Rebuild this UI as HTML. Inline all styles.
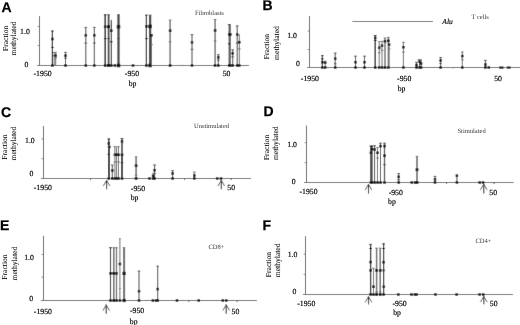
<!DOCTYPE html>
<html><head><meta charset="utf-8"><style>
html,body{margin:0;padding:0;background:#fff;}
body{width:520px;height:325px;overflow:hidden;font-family:"Liberation Serif",serif;}
svg{display:block;} text{text-rendering:geometricPrecision;}
</style></head><body>
<svg width="520" height="325" viewBox="0 0 520 325">
<defs><filter id="bl" filterUnits="userSpaceOnUse" x="0" y="0" width="520" height="325"><feConvolveMatrix order="3" kernelMatrix="0 1 0 1 8 1 0 1 0" preserveAlpha="true" edgeMode="duplicate"/></filter>
<filter id="tf" filterUnits="userSpaceOnUse" x="0" y="0" width="520" height="325"><feConvolveMatrix order="3" kernelMatrix="0 0 0 0 1 0 0 0 0" preserveAlpha="true" edgeMode="duplicate"/></filter></defs>
<g filter="url(#bl)">
<rect width="520" height="325" fill="#fff"/>
<line x1="39.5" y1="16" x2="39.5" y2="66.0" stroke="#555" stroke-width="1"/>
<line x1="37.0" y1="65.5" x2="249" y2="65.5" stroke="#666" stroke-width="1"/>
<line x1="37.7" y1="26.5" x2="39.5" y2="26.5" stroke="#777" stroke-width="1"/>
<line x1="37.7" y1="45.5" x2="39.5" y2="45.5" stroke="#777" stroke-width="1"/>
<line x1="52.4" y1="31" x2="52.4" y2="65.5" stroke="#111" stroke-width="1.2"/>
<line x1="51.1" y1="31" x2="53.699999999999996" y2="31" stroke="#111" stroke-width="1"/>
<line x1="51.1" y1="47.4" x2="53.699999999999996" y2="47.4" stroke="#111" stroke-width="1"/>
<rect x="51.15" y="37.75" width="2.5" height="2.5" fill="#111"/>
<rect x="51.15" y="64.25" width="2.5" height="2.5" fill="#111"/>
<line x1="54.2" y1="52.4" x2="54.2" y2="65.5" stroke="#6a6a6a" stroke-width="1"/>
<line x1="52.900000000000006" y1="52.4" x2="55.5" y2="52.4" stroke="#6a6a6a" stroke-width="1"/>
<line x1="55.7" y1="52.4" x2="55.7" y2="65.5" stroke="#6a6a6a" stroke-width="1"/>
<line x1="54.400000000000006" y1="52.4" x2="57.0" y2="52.4" stroke="#6a6a6a" stroke-width="1"/>
<line x1="54.400000000000006" y1="58.1" x2="57.0" y2="58.1" stroke="#6a6a6a" stroke-width="1"/>
<rect x="54.45" y="54.35" width="2.5" height="2.5" fill="#111"/>
<line x1="65.5" y1="52.4" x2="65.5" y2="65.5" stroke="#444" stroke-width="1"/>
<line x1="64.2" y1="52.4" x2="66.8" y2="52.4" stroke="#444" stroke-width="1"/>
<line x1="64.2" y1="58.2" x2="66.8" y2="58.2" stroke="#444" stroke-width="1"/>
<rect x="64.25" y="54.35" width="2.5" height="2.5" fill="#111"/>
<rect x="64.25" y="64.25" width="2.5" height="2.5" fill="#111"/>
<line x1="85.8" y1="27.4" x2="85.8" y2="65.5" stroke="#444" stroke-width="1"/>
<line x1="84.5" y1="27.4" x2="87.1" y2="27.4" stroke="#444" stroke-width="1"/>
<line x1="84.5" y1="43.1" x2="87.1" y2="43.1" stroke="#444" stroke-width="1"/>
<rect x="84.55" y="34.05" width="2.5" height="2.5" fill="#111"/>
<rect x="84.55" y="64.25" width="2.5" height="2.5" fill="#111"/>
<line x1="94.3" y1="27.4" x2="94.3" y2="65.5" stroke="#444" stroke-width="1"/>
<line x1="93.0" y1="27.4" x2="95.6" y2="27.4" stroke="#444" stroke-width="1"/>
<line x1="93.0" y1="43.1" x2="95.6" y2="43.1" stroke="#444" stroke-width="1"/>
<rect x="93.05" y="34.05" width="2.5" height="2.5" fill="#111"/>
<rect x="93.05" y="64.25" width="2.5" height="2.5" fill="#111"/>
<line x1="105.2" y1="14.8" x2="105.2" y2="65.5" stroke="#111" stroke-width="1.4"/>
<line x1="103.9" y1="14.8" x2="106.5" y2="14.8" stroke="#111" stroke-width="1"/>
<line x1="103.9" y1="38.6" x2="106.5" y2="38.6" stroke="#111" stroke-width="1"/>
<rect x="103.9" y="25.4" width="2.5999999999999996" height="2.5999999999999996" fill="#111"/>
<rect x="103.9" y="64.2" width="2.5999999999999996" height="2.5999999999999996" fill="#111"/>
<line x1="108.6" y1="14.8" x2="108.6" y2="65.5" stroke="#444" stroke-width="1.8"/>
<line x1="107.3" y1="14.8" x2="109.89999999999999" y2="14.8" stroke="#444" stroke-width="1"/>
<line x1="107.3" y1="38.6" x2="109.89999999999999" y2="38.6" stroke="#444" stroke-width="1"/>
<rect x="107.1" y="25.2" width="3.0" height="3.0" fill="#111"/>
<rect x="107.1" y="64.0" width="3.0" height="3.0" fill="#111"/>
<line x1="111.3" y1="19.9" x2="111.3" y2="65.5" stroke="#111" stroke-width="1"/>
<line x1="110.0" y1="41.8" x2="112.6" y2="41.8" stroke="#111" stroke-width="1"/>
<rect x="110.05" y="29.45" width="2.5" height="2.5" fill="#111"/>
<rect x="110.05" y="64.25" width="2.5" height="2.5" fill="#111"/>
<line x1="118.5" y1="14.8" x2="118.5" y2="65.5" stroke="#444" stroke-width="2.3"/>
<line x1="117.2" y1="14.8" x2="119.8" y2="14.8" stroke="#444" stroke-width="1"/>
<line x1="117.2" y1="38.6" x2="119.8" y2="38.6" stroke="#444" stroke-width="1"/>
<rect x="116.75" y="24.95" width="3.5" height="3.5" fill="#111"/>
<rect x="116.75" y="63.75" width="3.5" height="3.5" fill="#111"/>
<line x1="146.4" y1="15.2" x2="146.4" y2="65.5" stroke="#111" stroke-width="1.2"/>
<line x1="145.1" y1="15.2" x2="147.70000000000002" y2="15.2" stroke="#111" stroke-width="1"/>
<line x1="145.1" y1="38.6" x2="147.70000000000002" y2="38.6" stroke="#111" stroke-width="1"/>
<rect x="145.15" y="25.15" width="2.5" height="2.5" fill="#111"/>
<rect x="145.15" y="64.25" width="2.5" height="2.5" fill="#111"/>
<line x1="150.1" y1="15.2" x2="150.1" y2="65.5" stroke="#444" stroke-width="2.3"/>
<line x1="148.79999999999998" y1="15.2" x2="151.4" y2="15.2" stroke="#444" stroke-width="1"/>
<rect x="148.35" y="24.65" width="3.5" height="3.5" fill="#111"/>
<rect x="148.35" y="63.75" width="3.5" height="3.5" fill="#111"/>
<line x1="151.5" y1="35.3" x2="151.5" y2="65.5" stroke="#6a6a6a" stroke-width="1"/>
<line x1="150.2" y1="44.6" x2="152.8" y2="44.6" stroke="#6a6a6a" stroke-width="1"/>
<rect x="150.25" y="34.05" width="2.5" height="2.5" fill="#111"/>
<line x1="170.1" y1="20.1" x2="170.1" y2="65.5" stroke="#6a6a6a" stroke-width="1.4"/>
<line x1="168.79999999999998" y1="20.1" x2="171.4" y2="20.1" stroke="#6a6a6a" stroke-width="1"/>
<line x1="168.79999999999998" y1="41.8" x2="171.4" y2="41.8" stroke="#6a6a6a" stroke-width="1"/>
<rect x="168.79999999999998" y="29.4" width="2.5999999999999996" height="2.5999999999999996" fill="#111"/>
<rect x="168.79999999999998" y="64.2" width="2.5999999999999996" height="2.5999999999999996" fill="#111"/>
<line x1="192" y1="34.6" x2="192" y2="65.5" stroke="#444" stroke-width="1"/>
<line x1="190.7" y1="34.6" x2="193.3" y2="34.6" stroke="#444" stroke-width="1"/>
<line x1="190.7" y1="49.4" x2="193.3" y2="49.4" stroke="#444" stroke-width="1"/>
<rect x="190.75" y="41.15" width="2.5" height="2.5" fill="#111"/>
<rect x="190.75" y="64.25" width="2.5" height="2.5" fill="#111"/>
<line x1="215.1" y1="19.5" x2="215.1" y2="65.5" stroke="#6a6a6a" stroke-width="1.4"/>
<line x1="213.79999999999998" y1="19.5" x2="216.4" y2="19.5" stroke="#6a6a6a" stroke-width="1"/>
<line x1="213.79999999999998" y1="40.9" x2="216.4" y2="40.9" stroke="#6a6a6a" stroke-width="1"/>
<rect x="213.79999999999998" y="29.2" width="2.5999999999999996" height="2.5999999999999996" fill="#111"/>
<rect x="213.79999999999998" y="64.2" width="2.5999999999999996" height="2.5999999999999996" fill="#111"/>
<line x1="218.3" y1="54.7" x2="218.3" y2="65.5" stroke="#444" stroke-width="1"/>
<line x1="217.0" y1="54.7" x2="219.60000000000002" y2="54.7" stroke="#444" stroke-width="1"/>
<line x1="217.0" y1="60.099999999999994" x2="219.60000000000002" y2="60.099999999999994" stroke="#444" stroke-width="1"/>
<rect x="217.05" y="56.15" width="2.5" height="2.5" fill="#111"/>
<rect x="217.05" y="64.25" width="2.5" height="2.5" fill="#111"/>
<line x1="229.2" y1="24.6" x2="229.2" y2="65.5" stroke="#111" stroke-width="1"/>
<line x1="227.89999999999998" y1="24.6" x2="230.5" y2="24.6" stroke="#111" stroke-width="1"/>
<line x1="227.89999999999998" y1="43.8" x2="230.5" y2="43.8" stroke="#111" stroke-width="1"/>
<rect x="227.95" y="33.25" width="2.5" height="2.5" fill="#111"/>
<rect x="227.95" y="64.25" width="2.5" height="2.5" fill="#111"/>
<line x1="230.4" y1="24.6" x2="230.4" y2="65.5" stroke="#6a6a6a" stroke-width="1"/>
<rect x="229.15" y="33.25" width="2.5" height="2.5" fill="#111"/>
<rect x="229.15" y="64.25" width="2.5" height="2.5" fill="#111"/>
<line x1="232.7" y1="49.9" x2="232.7" y2="65.5" stroke="#444" stroke-width="1"/>
<line x1="231.39999999999998" y1="49.9" x2="234.0" y2="49.9" stroke="#444" stroke-width="1"/>
<line x1="231.39999999999998" y1="56.9" x2="234.0" y2="56.9" stroke="#444" stroke-width="1"/>
<rect x="231.45" y="52.15" width="2.5" height="2.5" fill="#111"/>
<rect x="231.45" y="64.25" width="2.5" height="2.5" fill="#111"/>
<line x1="237.2" y1="25.9" x2="237.2" y2="65.5" stroke="#444" stroke-width="1"/>
<line x1="235.89999999999998" y1="25.9" x2="238.5" y2="25.9" stroke="#444" stroke-width="1"/>
<line x1="235.89999999999998" y1="43.1" x2="238.5" y2="43.1" stroke="#444" stroke-width="1"/>
<rect x="235.95" y="33.25" width="2.5" height="2.5" fill="#111"/>
<rect x="235.95" y="64.25" width="2.5" height="2.5" fill="#111"/>
<line x1="239.3" y1="34.2" x2="239.3" y2="65.5" stroke="#6a6a6a" stroke-width="1"/>
<line x1="238.0" y1="48.9" x2="240.60000000000002" y2="48.9" stroke="#6a6a6a" stroke-width="1"/>
<rect x="238.05" y="40.95" width="2.5" height="2.5" fill="#111"/>
<rect x="238.05" y="64.25" width="2.5" height="2.5" fill="#111"/>
<rect x="113.55" y="64.25" width="2.5" height="2.5" fill="#111"/>
<rect x="131.75" y="64.25" width="2.5" height="2.5" fill="#111"/>
<line x1="52.6" y1="56" x2="55.6" y2="55.2" stroke="#333" stroke-width="0.8"/>
<rect x="181" y="64.6" width="1.2" height="1.6" fill="#999"/>
<line x1="309.5" y1="16" x2="309.5" y2="68.0" stroke="#555" stroke-width="1"/>
<line x1="307.0" y1="67.5" x2="520" y2="67.5" stroke="#666" stroke-width="1"/>
<line x1="307.7" y1="31" x2="309.5" y2="31" stroke="#777" stroke-width="1"/>
<line x1="307.7" y1="49.5" x2="309.5" y2="49.5" stroke="#777" stroke-width="1"/>
<line x1="322.3" y1="55.6" x2="322.3" y2="67.5" stroke="#111" stroke-width="1"/>
<line x1="321.0" y1="55.6" x2="323.6" y2="55.6" stroke="#111" stroke-width="1"/>
<line x1="321.0" y1="58.9" x2="323.6" y2="58.9" stroke="#111" stroke-width="1"/>
<rect x="321.05" y="60.95" width="2.5" height="2.5" fill="#111"/>
<rect x="321.05" y="66.25" width="2.5" height="2.5" fill="#111"/>
<line x1="325.2" y1="60.5" x2="325.2" y2="67.5" stroke="#6a6a6a" stroke-width="1"/>
<rect x="323.95" y="61.35" width="2.5" height="2.5" fill="#111"/>
<rect x="323.95" y="66.25" width="2.5" height="2.5" fill="#111"/>
<line x1="335.2" y1="53.1" x2="335.2" y2="67.5" stroke="#444" stroke-width="1"/>
<line x1="333.9" y1="53.1" x2="336.5" y2="53.1" stroke="#444" stroke-width="1"/>
<line x1="333.9" y1="63.8" x2="336.5" y2="63.8" stroke="#444" stroke-width="1"/>
<rect x="333.95" y="57.45" width="2.5" height="2.5" fill="#111"/>
<rect x="333.95" y="66.25" width="2.5" height="2.5" fill="#111"/>
<line x1="355.5" y1="56.2" x2="355.5" y2="67.5" stroke="#444" stroke-width="1"/>
<line x1="354.2" y1="56.2" x2="356.8" y2="56.2" stroke="#444" stroke-width="1"/>
<rect x="354.25" y="60.95" width="2.5" height="2.5" fill="#111"/>
<rect x="354.25" y="66.25" width="2.5" height="2.5" fill="#111"/>
<line x1="364.5" y1="56.2" x2="364.5" y2="67.5" stroke="#444" stroke-width="1"/>
<line x1="363.2" y1="56.2" x2="365.8" y2="56.2" stroke="#444" stroke-width="1"/>
<rect x="363.25" y="60.95" width="2.5" height="2.5" fill="#111"/>
<rect x="363.25" y="66.25" width="2.5" height="2.5" fill="#111"/>
<line x1="375.2" y1="35.5" x2="375.2" y2="67.5" stroke="#111" stroke-width="1.3"/>
<line x1="373.9" y1="35.5" x2="376.5" y2="35.5" stroke="#111" stroke-width="1"/>
<line x1="373.9" y1="40.5" x2="376.5" y2="40.5" stroke="#111" stroke-width="1"/>
<rect x="373.95" y="36.75" width="2.5" height="2.5" fill="#111"/>
<rect x="373.95" y="66.25" width="2.5" height="2.5" fill="#111"/>
<line x1="379.2" y1="41.7" x2="379.2" y2="67.5" stroke="#6a6a6a" stroke-width="1"/>
<line x1="377.9" y1="41.7" x2="380.5" y2="41.7" stroke="#6a6a6a" stroke-width="1"/>
<line x1="377.9" y1="52.8" x2="380.5" y2="52.8" stroke="#6a6a6a" stroke-width="1"/>
<rect x="377.95" y="46.55" width="2.5" height="2.5" fill="#111"/>
<rect x="377.95" y="66.25" width="2.5" height="2.5" fill="#111"/>
<line x1="382" y1="41.4" x2="382" y2="67.5" stroke="#6a6a6a" stroke-width="1"/>
<line x1="380.7" y1="41.4" x2="383.3" y2="41.4" stroke="#6a6a6a" stroke-width="1"/>
<line x1="380.7" y1="50.3" x2="383.3" y2="50.3" stroke="#6a6a6a" stroke-width="1"/>
<rect x="380.75" y="44.45" width="2.5" height="2.5" fill="#111"/>
<rect x="380.75" y="66.25" width="2.5" height="2.5" fill="#111"/>
<line x1="385" y1="38" x2="385" y2="67.5" stroke="#6a6a6a" stroke-width="1.4"/>
<line x1="383.7" y1="38" x2="386.3" y2="38" stroke="#6a6a6a" stroke-width="1"/>
<rect x="383.7" y="40.0" width="2.5999999999999996" height="2.5999999999999996" fill="#111"/>
<rect x="383.7" y="66.2" width="2.5999999999999996" height="2.5999999999999996" fill="#111"/>
<line x1="388.4" y1="37.4" x2="388.4" y2="67.5" stroke="#6a6a6a" stroke-width="1.4"/>
<line x1="387.09999999999997" y1="37.4" x2="389.7" y2="37.4" stroke="#6a6a6a" stroke-width="1"/>
<rect x="387.09999999999997" y="39.5" width="2.5999999999999996" height="2.5999999999999996" fill="#111"/>
<rect x="387.09999999999997" y="66.2" width="2.5999999999999996" height="2.5999999999999996" fill="#111"/>
<line x1="389.1" y1="44.5" x2="389.1" y2="67.5" stroke="#6a6a6a" stroke-width="1"/>
<line x1="387.8" y1="49" x2="390.40000000000003" y2="49" stroke="#6a6a6a" stroke-width="1"/>
<rect x="387.85" y="43.25" width="2.5" height="2.5" fill="#111"/>
<line x1="403.4" y1="42.3" x2="403.4" y2="67.5" stroke="#6a6a6a" stroke-width="1"/>
<line x1="402.09999999999997" y1="42.3" x2="404.7" y2="42.3" stroke="#6a6a6a" stroke-width="1"/>
<line x1="402.09999999999997" y1="52.1" x2="404.7" y2="52.1" stroke="#6a6a6a" stroke-width="1"/>
<rect x="402.15" y="45.95" width="2.5" height="2.5" fill="#111"/>
<rect x="402.15" y="66.25" width="2.5" height="2.5" fill="#111"/>
<line x1="416.5" y1="62.2" x2="416.5" y2="67.5" stroke="#444" stroke-width="1"/>
<line x1="415.2" y1="62.2" x2="417.8" y2="62.2" stroke="#444" stroke-width="1"/>
<rect x="415.25" y="63.75" width="2.5" height="2.5" fill="#111"/>
<rect x="415.25" y="66.25" width="2.5" height="2.5" fill="#111"/>
<line x1="419.6" y1="59.8" x2="419.6" y2="67.5" stroke="#444" stroke-width="1"/>
<line x1="417.6" y1="59.8" x2="421.6" y2="59.8" stroke="#444" stroke-width="1"/>
<rect x="418.35" y="60.45" width="2.5" height="2.5" fill="#111"/>
<rect x="418.35" y="66.25" width="2.5" height="2.5" fill="#111"/>
<line x1="421.1" y1="59.8" x2="421.1" y2="67.5" stroke="#444" stroke-width="1"/>
<rect x="419.85" y="62.25" width="2.5" height="2.5" fill="#111"/>
<rect x="419.85" y="66.25" width="2.5" height="2.5" fill="#111"/>
<line x1="440.6" y1="57.5" x2="440.6" y2="67.5" stroke="#444" stroke-width="1"/>
<line x1="439.3" y1="57.5" x2="441.90000000000003" y2="57.5" stroke="#444" stroke-width="1"/>
<line x1="439.3" y1="63.6" x2="441.90000000000003" y2="63.6" stroke="#444" stroke-width="1"/>
<rect x="439.35" y="59.25" width="2.5" height="2.5" fill="#111"/>
<rect x="439.35" y="66.25" width="2.5" height="2.5" fill="#111"/>
<line x1="462.3" y1="52" x2="462.3" y2="67.5" stroke="#6a6a6a" stroke-width="1"/>
<line x1="461.0" y1="52" x2="463.6" y2="52" stroke="#6a6a6a" stroke-width="1"/>
<line x1="461.0" y1="59.7" x2="463.6" y2="59.7" stroke="#6a6a6a" stroke-width="1"/>
<rect x="461.05" y="54.85" width="2.5" height="2.5" fill="#111"/>
<rect x="461.05" y="66.25" width="2.5" height="2.5" fill="#111"/>
<line x1="485.4" y1="60.4" x2="485.4" y2="67.5" stroke="#444" stroke-width="1"/>
<line x1="484.09999999999997" y1="60.4" x2="486.7" y2="60.4" stroke="#444" stroke-width="1"/>
<rect x="484.15" y="63.25" width="2.5" height="2.5" fill="#111"/>
<rect x="484.15" y="66.25" width="2.5" height="2.5" fill="#111"/>
<rect x="487.55" y="66.25" width="2.5" height="2.5" fill="#111"/>
<line x1="352.3" y1="21.5" x2="433" y2="21.5" stroke="#6a6a6a" stroke-width="1"/>
<line x1="321.8" y1="63.5" x2="325" y2="61.8" stroke="#333" stroke-width="0.8"/>
<rect x="452" y="67" width="1.6" height="1.3" fill="#777"/>
<rect x="499.2" y="66.5" width="4.3" height="2.2" fill="#111"/>
<rect x="506.8" y="66.5" width="3.8" height="2.2" fill="#111"/>
<line x1="43.5" y1="126" x2="43.5" y2="179.0" stroke="#555" stroke-width="1"/>
<line x1="41.0" y1="178.5" x2="251" y2="178.5" stroke="#666" stroke-width="1"/>
<line x1="41.7" y1="138.9" x2="43.5" y2="138.9" stroke="#777" stroke-width="1"/>
<line x1="41.7" y1="158.7" x2="43.5" y2="158.7" stroke="#777" stroke-width="1"/>
<line x1="90.5" y1="178.5" x2="90.5" y2="180.0" stroke="#444" stroke-width="1"/>
<line x1="184.5" y1="178.5" x2="184.5" y2="180.0" stroke="#444" stroke-width="1"/>
<line x1="231.2" y1="178.5" x2="231.2" y2="180.0" stroke="#444" stroke-width="1"/>
<line x1="108.8" y1="138.9" x2="108.8" y2="178.5" stroke="#111" stroke-width="1.3"/>
<line x1="107.5" y1="138.9" x2="110.1" y2="138.9" stroke="#111" stroke-width="1"/>
<line x1="107.5" y1="154.3" x2="110.1" y2="154.3" stroke="#111" stroke-width="1"/>
<rect x="107.55" y="142.25" width="2.5" height="2.5" fill="#111"/>
<rect x="107.55" y="177.25" width="2.5" height="2.5" fill="#111"/>
<line x1="109.2" y1="146.9" x2="109.2" y2="178.5" stroke="#111" stroke-width="1"/>
<line x1="107.9" y1="146.9" x2="110.5" y2="146.9" stroke="#111" stroke-width="1"/>
<rect x="107.95" y="145.65" width="2.5" height="2.5" fill="#111"/>
<line x1="112.3" y1="165.1" x2="112.3" y2="178.5" stroke="#444" stroke-width="1"/>
<line x1="111.0" y1="165.1" x2="113.6" y2="165.1" stroke="#444" stroke-width="1"/>
<rect x="111.05" y="169.25" width="2.5" height="2.5" fill="#111"/>
<rect x="111.05" y="177.25" width="2.5" height="2.5" fill="#111"/>
<line x1="114.9" y1="146.6" x2="114.9" y2="178.5" stroke="#6a6a6a" stroke-width="1"/>
<line x1="113.60000000000001" y1="146.6" x2="116.2" y2="146.6" stroke="#6a6a6a" stroke-width="1"/>
<line x1="113.60000000000001" y1="162" x2="116.2" y2="162" stroke="#6a6a6a" stroke-width="1"/>
<rect x="113.65" y="153.55" width="2.5" height="2.5" fill="#111"/>
<rect x="113.65" y="177.25" width="2.5" height="2.5" fill="#111"/>
<line x1="116.6" y1="146.6" x2="116.6" y2="178.5" stroke="#6a6a6a" stroke-width="1"/>
<rect x="115.35" y="153.55" width="2.5" height="2.5" fill="#111"/>
<rect x="115.35" y="177.25" width="2.5" height="2.5" fill="#111"/>
<line x1="118.5" y1="146.6" x2="118.5" y2="178.5" stroke="#6a6a6a" stroke-width="1"/>
<line x1="117.2" y1="146.6" x2="119.8" y2="146.6" stroke="#6a6a6a" stroke-width="1"/>
<line x1="117.2" y1="162" x2="119.8" y2="162" stroke="#6a6a6a" stroke-width="1"/>
<rect x="117.25" y="153.55" width="2.5" height="2.5" fill="#111"/>
<rect x="117.25" y="177.25" width="2.5" height="2.5" fill="#111"/>
<line x1="122" y1="138.5" x2="122" y2="178.5" stroke="#111" stroke-width="1.3"/>
<line x1="120.7" y1="138.5" x2="123.3" y2="138.5" stroke="#111" stroke-width="1"/>
<line x1="120.7" y1="162.8" x2="123.3" y2="162.8" stroke="#111" stroke-width="1"/>
<rect x="120.75" y="140.25" width="2.5" height="2.5" fill="#111"/>
<rect x="120.75" y="177.25" width="2.5" height="2.5" fill="#111"/>
<line x1="122" y1="154.8" x2="122" y2="178.5" stroke="#111" stroke-width="1"/>
<line x1="120.7" y1="154.8" x2="123.3" y2="154.8" stroke="#111" stroke-width="1"/>
<rect x="120.75" y="153.55" width="2.5" height="2.5" fill="#111"/>
<line x1="136.1" y1="156.9" x2="136.1" y2="178.5" stroke="#6a6a6a" stroke-width="1.5"/>
<line x1="134.79999999999998" y1="156.9" x2="137.4" y2="156.9" stroke="#6a6a6a" stroke-width="1"/>
<line x1="134.79999999999998" y1="175.1" x2="137.4" y2="175.1" stroke="#6a6a6a" stroke-width="1"/>
<rect x="134.75" y="164.35" width="2.7" height="2.7" fill="#111"/>
<rect x="134.75" y="177.15" width="2.7" height="2.7" fill="#111"/>
<line x1="154.6" y1="165" x2="154.6" y2="178.5" stroke="#444" stroke-width="1"/>
<line x1="153.29999999999998" y1="165" x2="155.9" y2="165" stroke="#444" stroke-width="1"/>
<line x1="153.29999999999998" y1="173.6" x2="155.9" y2="173.6" stroke="#444" stroke-width="1"/>
<rect x="153.35" y="168.95" width="2.5" height="2.5" fill="#111"/>
<rect x="153.35" y="177.25" width="2.5" height="2.5" fill="#111"/>
<line x1="153.1" y1="172.5" x2="153.1" y2="178.5" stroke="#6a6a6a" stroke-width="1"/>
<rect x="151.85" y="174.55" width="2.5" height="2.5" fill="#111"/>
<rect x="151.85" y="177.25" width="2.5" height="2.5" fill="#111"/>
<line x1="172.6" y1="170.7" x2="172.6" y2="178.5" stroke="#444" stroke-width="1"/>
<line x1="171.29999999999998" y1="170.7" x2="173.9" y2="170.7" stroke="#444" stroke-width="1"/>
<rect x="171.35" y="172.25" width="2.5" height="2.5" fill="#111"/>
<rect x="171.35" y="177.25" width="2.5" height="2.5" fill="#111"/>
<line x1="194.3" y1="172.1" x2="194.3" y2="178.5" stroke="#6a6a6a" stroke-width="1"/>
<line x1="193.0" y1="172.1" x2="195.60000000000002" y2="172.1" stroke="#6a6a6a" stroke-width="1"/>
<rect x="193.05" y="174.25" width="2.5" height="2.5" fill="#111"/>
<rect x="193.05" y="177.25" width="2.5" height="2.5" fill="#111"/>
<rect x="148.25" y="177.25" width="2.5" height="2.5" fill="#111"/>
<rect x="215.95" y="177.25" width="2.5" height="2.5" fill="#111"/>
<rect x="219.75" y="177.25" width="2.5" height="2.5" fill="#111"/>
<line x1="106.6" y1="180" x2="106.6" y2="189.2" stroke="#333" stroke-width="1.1"/>
<polyline points="103.3,186 106.6,180.3 109.89999999999999,186" fill="none" stroke="#333" stroke-width="0.85"/>
<line x1="221.3" y1="180" x2="221.3" y2="189.2" stroke="#333" stroke-width="1.1"/>
<polyline points="218.0,186 221.3,180.3 224.60000000000002,186" fill="none" stroke="#333" stroke-width="0.85"/>
<line x1="306.5" y1="125.6" x2="306.5" y2="183.0" stroke="#555" stroke-width="1"/>
<line x1="304.0" y1="182.5" x2="513.6" y2="182.5" stroke="#666" stroke-width="1"/>
<line x1="304.7" y1="142.6" x2="306.5" y2="142.6" stroke="#777" stroke-width="1"/>
<line x1="304.7" y1="162.6" x2="306.5" y2="162.6" stroke="#777" stroke-width="1"/>
<line x1="446.5" y1="182.5" x2="446.5" y2="184.0" stroke="#444" stroke-width="1"/>
<line x1="494.1" y1="182.5" x2="494.1" y2="184.0" stroke="#444" stroke-width="1"/>
<line x1="370.9" y1="146.1" x2="370.9" y2="182.5" stroke="#111" stroke-width="1.2"/>
<line x1="369.59999999999997" y1="146.1" x2="372.2" y2="146.1" stroke="#111" stroke-width="1"/>
<rect x="369.65" y="151.55" width="2.5" height="2.5" fill="#111"/>
<rect x="369.65" y="181.25" width="2.5" height="2.5" fill="#111"/>
<line x1="372" y1="146.1" x2="372" y2="182.5" stroke="#111" stroke-width="1"/>
<line x1="370.7" y1="146.1" x2="373.3" y2="146.1" stroke="#111" stroke-width="1"/>
<rect x="370.75" y="147.85" width="2.5" height="2.5" fill="#111"/>
<rect x="370.75" y="181.25" width="2.5" height="2.5" fill="#111"/>
<line x1="374.6" y1="145.7" x2="374.6" y2="182.5" stroke="#444" stroke-width="1"/>
<line x1="373.3" y1="145.7" x2="375.90000000000003" y2="145.7" stroke="#444" stroke-width="1"/>
<rect x="373.35" y="148.25" width="2.5" height="2.5" fill="#111"/>
<rect x="373.35" y="181.25" width="2.5" height="2.5" fill="#111"/>
<line x1="377.5" y1="147.6" x2="377.5" y2="182.5" stroke="#6a6a6a" stroke-width="1"/>
<line x1="376.2" y1="147.6" x2="378.8" y2="147.6" stroke="#6a6a6a" stroke-width="1"/>
<line x1="376.2" y1="158" x2="378.8" y2="158" stroke="#6a6a6a" stroke-width="1"/>
<rect x="376.25" y="151.55" width="2.5" height="2.5" fill="#111"/>
<rect x="376.25" y="181.25" width="2.5" height="2.5" fill="#111"/>
<line x1="380.5" y1="143.2" x2="380.5" y2="182.5" stroke="#444" stroke-width="1"/>
<line x1="379.2" y1="143.2" x2="381.8" y2="143.2" stroke="#444" stroke-width="1"/>
<rect x="379.25" y="144.85" width="2.5" height="2.5" fill="#111"/>
<rect x="379.25" y="181.25" width="2.5" height="2.5" fill="#111"/>
<line x1="384.5" y1="143.2" x2="384.5" y2="182.5" stroke="#444" stroke-width="1.3"/>
<line x1="383.2" y1="143.2" x2="385.8" y2="143.2" stroke="#444" stroke-width="1"/>
<line x1="383.2" y1="164.6" x2="385.8" y2="164.6" stroke="#444" stroke-width="1"/>
<rect x="383.25" y="144.85" width="2.5" height="2.5" fill="#111"/>
<rect x="383.25" y="181.25" width="2.5" height="2.5" fill="#111"/>
<line x1="384.5" y1="155.7" x2="384.5" y2="182.5" stroke="#444" stroke-width="1"/>
<line x1="383.2" y1="155.7" x2="385.8" y2="155.7" stroke="#444" stroke-width="1"/>
<rect x="383.25" y="154.45" width="2.5" height="2.5" fill="#111"/>
<line x1="398.7" y1="173.5" x2="398.7" y2="182.5" stroke="#444" stroke-width="1"/>
<line x1="397.4" y1="173.5" x2="400.0" y2="173.5" stroke="#444" stroke-width="1"/>
<line x1="397.4" y1="179.7" x2="400.0" y2="179.7" stroke="#444" stroke-width="1"/>
<rect x="397.45" y="175.55" width="2.5" height="2.5" fill="#111"/>
<rect x="397.45" y="181.25" width="2.5" height="2.5" fill="#111"/>
<line x1="417" y1="156.4" x2="417" y2="182.5" stroke="#6a6a6a" stroke-width="1.6"/>
<line x1="415.7" y1="156.4" x2="418.3" y2="156.4" stroke="#6a6a6a" stroke-width="1"/>
<rect x="415.6" y="168.29999999999998" width="2.8" height="2.8" fill="#111"/>
<rect x="415.6" y="181.1" width="2.8" height="2.8" fill="#111"/>
<line x1="435" y1="176.4" x2="435" y2="182.5" stroke="#444" stroke-width="1"/>
<line x1="433.7" y1="176.4" x2="436.3" y2="176.4" stroke="#444" stroke-width="1"/>
<rect x="433.75" y="178.15" width="2.5" height="2.5" fill="#111"/>
<rect x="433.75" y="181.25" width="2.5" height="2.5" fill="#111"/>
<line x1="456.9" y1="175.6" x2="456.9" y2="182.5" stroke="#444" stroke-width="1"/>
<rect x="455.65" y="174.35" width="2.5" height="2.5" fill="#111"/>
<rect x="455.65" y="181.25" width="2.5" height="2.5" fill="#111"/>
<rect x="410.45" y="181.25" width="2.5" height="2.5" fill="#111"/>
<rect x="413.75" y="181.25" width="2.5" height="2.5" fill="#111"/>
<rect x="478.45" y="181.25" width="2.5" height="2.5" fill="#111"/>
<rect x="481.75" y="181.25" width="2.5" height="2.5" fill="#111"/>
<line x1="368.5" y1="184" x2="368.5" y2="193.6" stroke="#333" stroke-width="1.1"/>
<polyline points="365.2,190 368.5,184.3 371.8,190" fill="none" stroke="#333" stroke-width="0.85"/>
<line x1="483.8" y1="183.8" x2="483.8" y2="193.4" stroke="#333" stroke-width="1.1"/>
<polyline points="480.5,189.8 483.8,184.10000000000002 487.1,189.8" fill="none" stroke="#333" stroke-width="0.85"/>
<line x1="43.5" y1="235.8" x2="43.5" y2="301.0" stroke="#555" stroke-width="1"/>
<line x1="41.0" y1="300.5" x2="257" y2="300.5" stroke="#666" stroke-width="1"/>
<line x1="41.7" y1="254.5" x2="43.5" y2="254.5" stroke="#777" stroke-width="1"/>
<line x1="41.7" y1="277.2" x2="43.5" y2="277.2" stroke="#777" stroke-width="1"/>
<line x1="188.8" y1="300.5" x2="188.8" y2="302.0" stroke="#444" stroke-width="1"/>
<line x1="237.2" y1="300.5" x2="237.2" y2="302.0" stroke="#444" stroke-width="1"/>
<line x1="110.5" y1="247.7" x2="110.5" y2="300.5" stroke="#111" stroke-width="1.1"/>
<line x1="109.2" y1="247.7" x2="111.8" y2="247.7" stroke="#111" stroke-width="1"/>
<rect x="109.25" y="272.15" width="2.5" height="2.5" fill="#111"/>
<rect x="109.25" y="299.25" width="2.5" height="2.5" fill="#111"/>
<line x1="113.8" y1="247.7" x2="113.8" y2="300.5" stroke="#6a6a6a" stroke-width="1.5"/>
<line x1="112.5" y1="247.7" x2="115.1" y2="247.7" stroke="#6a6a6a" stroke-width="1"/>
<rect x="112.45" y="272.04999999999995" width="2.7" height="2.7" fill="#111"/>
<rect x="112.45" y="299.15" width="2.7" height="2.7" fill="#111"/>
<line x1="116.5" y1="247.7" x2="116.5" y2="300.5" stroke="#6a6a6a" stroke-width="1.3"/>
<line x1="115.2" y1="247.7" x2="117.8" y2="247.7" stroke="#6a6a6a" stroke-width="1"/>
<rect x="115.25" y="272.15" width="2.5" height="2.5" fill="#111"/>
<rect x="115.25" y="299.25" width="2.5" height="2.5" fill="#111"/>
<line x1="119.9" y1="238.6" x2="119.9" y2="300.5" stroke="#6a6a6a" stroke-width="1"/>
<line x1="119.10000000000001" y1="238.6" x2="120.7" y2="238.6" stroke="#6a6a6a" stroke-width="1"/>
<line x1="119.10000000000001" y1="288.5" x2="120.7" y2="288.5" stroke="#6a6a6a" stroke-width="1"/>
<rect x="118.65" y="262.75" width="2.5" height="2.5" fill="#111"/>
<rect x="118.65" y="299.25" width="2.5" height="2.5" fill="#111"/>
<line x1="124.1" y1="247.7" x2="124.1" y2="300.5" stroke="#6a6a6a" stroke-width="2"/>
<line x1="122.8" y1="247.7" x2="125.39999999999999" y2="247.7" stroke="#6a6a6a" stroke-width="1"/>
<rect x="122.5" y="271.79999999999995" width="3.2" height="3.2" fill="#111"/>
<rect x="122.5" y="298.9" width="3.2" height="3.2" fill="#111"/>
<line x1="139" y1="271.1" x2="139" y2="300.5" stroke="#444" stroke-width="1"/>
<line x1="137.7" y1="271.1" x2="140.3" y2="271.1" stroke="#444" stroke-width="1"/>
<rect x="137.75" y="289.95" width="2.5" height="2.5" fill="#111"/>
<rect x="137.75" y="299.25" width="2.5" height="2.5" fill="#111"/>
<line x1="157.7" y1="266.2" x2="157.7" y2="300.5" stroke="#444" stroke-width="1"/>
<line x1="156.39999999999998" y1="266.2" x2="159.0" y2="266.2" stroke="#444" stroke-width="1"/>
<rect x="156.45" y="287.85" width="2.5" height="2.5" fill="#111"/>
<rect x="156.45" y="299.25" width="2.5" height="2.5" fill="#111"/>
<rect x="151.65" y="299.25" width="2.5" height="2.5" fill="#111"/>
<rect x="154.75" y="299.25" width="2.5" height="2.5" fill="#111"/>
<rect x="175.75" y="299.25" width="2.5" height="2.5" fill="#111"/>
<rect x="197.45" y="299.25" width="2.5" height="2.5" fill="#111"/>
<rect x="221.55" y="299.25" width="2.5" height="2.5" fill="#111"/>
<rect x="224.95" y="299.25" width="2.5" height="2.5" fill="#111"/>
<line x1="106.2" y1="304.6" x2="106.2" y2="313.8" stroke="#333" stroke-width="1.1"/>
<polyline points="102.9,310.6 106.2,304.90000000000003 109.5,310.6" fill="none" stroke="#333" stroke-width="0.85"/>
<line x1="226.2" y1="304.5" x2="226.2" y2="313.7" stroke="#333" stroke-width="1.1"/>
<polyline points="222.89999999999998,310.5 226.2,304.8 229.5,310.5" fill="none" stroke="#333" stroke-width="0.85"/>
<line x1="110.5" y1="273.4" x2="117" y2="273.4" stroke="#222" stroke-width="1.2"/>
<line x1="305.5" y1="236.2" x2="305.5" y2="295.0" stroke="#555" stroke-width="1"/>
<line x1="303.0" y1="294.5" x2="513" y2="294.5" stroke="#666" stroke-width="1"/>
<line x1="303.7" y1="254.2" x2="305.5" y2="254.2" stroke="#777" stroke-width="1"/>
<line x1="303.7" y1="274.4" x2="305.5" y2="274.4" stroke="#777" stroke-width="1"/>
<line x1="370.6" y1="244.4" x2="370.6" y2="294.5" stroke="#111" stroke-width="1.3"/>
<line x1="369.3" y1="244.4" x2="371.90000000000003" y2="244.4" stroke="#111" stroke-width="1"/>
<line x1="369.3" y1="248.5" x2="371.90000000000003" y2="248.5" stroke="#111" stroke-width="1"/>
<rect x="369.35" y="260.85" width="2.5" height="2.5" fill="#111"/>
<rect x="369.35" y="293.25" width="2.5" height="2.5" fill="#111"/>
<line x1="373.5" y1="268.3" x2="373.5" y2="294.5" stroke="#6a6a6a" stroke-width="1"/>
<line x1="372.2" y1="268.3" x2="374.8" y2="268.3" stroke="#6a6a6a" stroke-width="1"/>
<rect x="372.25" y="285.45" width="2.5" height="2.5" fill="#111"/>
<rect x="372.25" y="293.25" width="2.5" height="2.5" fill="#111"/>
<line x1="376.6" y1="248.2" x2="376.6" y2="294.5" stroke="#6a6a6a" stroke-width="1.5"/>
<line x1="375.3" y1="248.2" x2="377.90000000000003" y2="248.2" stroke="#6a6a6a" stroke-width="1"/>
<line x1="375.3" y1="291.9" x2="377.90000000000003" y2="291.9" stroke="#6a6a6a" stroke-width="1"/>
<rect x="375.25" y="269.04999999999995" width="2.7" height="2.7" fill="#111"/>
<rect x="375.25" y="293.15" width="2.7" height="2.7" fill="#111"/>
<line x1="380.2" y1="248.2" x2="380.2" y2="294.5" stroke="#6a6a6a" stroke-width="1.5"/>
<line x1="378.9" y1="248.2" x2="381.5" y2="248.2" stroke="#6a6a6a" stroke-width="1"/>
<line x1="378.9" y1="291.9" x2="381.5" y2="291.9" stroke="#6a6a6a" stroke-width="1"/>
<rect x="378.84999999999997" y="269.04999999999995" width="2.7" height="2.7" fill="#111"/>
<rect x="378.84999999999997" y="293.15" width="2.7" height="2.7" fill="#111"/>
<line x1="383.6" y1="243.8" x2="383.6" y2="294.5" stroke="#111" stroke-width="1.2"/>
<line x1="382.3" y1="243.8" x2="384.90000000000003" y2="243.8" stroke="#111" stroke-width="1"/>
<line x1="382.3" y1="248.5" x2="384.90000000000003" y2="248.5" stroke="#111" stroke-width="1"/>
<rect x="382.35" y="260.95" width="2.5" height="2.5" fill="#111"/>
<rect x="382.35" y="293.25" width="2.5" height="2.5" fill="#111"/>
<rect x="397.05" y="293.25" width="2.5" height="2.5" fill="#111"/>
<rect x="410.25" y="293.25" width="2.5" height="2.5" fill="#111"/>
<rect x="413.65" y="293.25" width="2.5" height="2.5" fill="#111"/>
<rect x="415.35" y="293.25" width="2.5" height="2.5" fill="#111"/>
<rect x="434.15" y="293.25" width="2.5" height="2.5" fill="#111"/>
<rect x="455.35" y="293.25" width="2.5" height="2.5" fill="#111"/>
<rect x="478.35" y="293.25" width="2.5" height="2.5" fill="#111"/>
<rect x="481.95" y="293.25" width="2.5" height="2.5" fill="#111"/>
<line x1="368.5" y1="296.3" x2="368.5" y2="304.5" stroke="#333" stroke-width="1.1"/>
<polyline points="365.2,302.3 368.5,296.6 371.8,302.3" fill="none" stroke="#333" stroke-width="0.85"/>
<line x1="483.8" y1="296.1" x2="483.8" y2="304.3" stroke="#333" stroke-width="1.1"/>
<polyline points="480.5,302.1 483.8,296.40000000000003 487.1,302.1" fill="none" stroke="#333" stroke-width="0.85"/>
<rect x="369.35" y="269.15" width="2.5" height="2.5" fill="#111"/>
<rect x="382.6" y="269.4" width="2.0" height="2.0" fill="#111"/>
<rect x="382.55" y="285.45" width="2.5" height="2.5" fill="#111"/>
</g>
<g filter="url(#tf)">
<text x="1.5" y="11.5" font-family='"Liberation Sans", sans-serif' font-size="14" font-weight="bold" font-style="normal" text-anchor="start" fill="#000" stroke="#000" stroke-width="0.25">A</text>
<text x="20.080000000000002" y="33.86" font-family='"Liberation Serif", serif' font-size="7.8" font-weight="normal" font-style="normal" text-anchor="start" fill="#000" stroke="#000" stroke-width="0.16">1.0</text>
<text x="24.6" y="66.7" font-family='"Liberation Serif", serif' font-size="7.8" font-weight="normal" font-style="normal" text-anchor="start" fill="#000" stroke="#000" stroke-width="0.16">0</text>
<text x="33.519999999999996" y="76.24" font-family='"Liberation Serif", serif' font-size="7.8" font-weight="normal" font-style="normal" text-anchor="start" fill="#000" stroke="#000" stroke-width="0.16">-1950</text>
<text x="124.86" y="75.78" font-family='"Liberation Serif", serif' font-size="7.8" font-weight="normal" font-style="normal" text-anchor="start" fill="#000" stroke="#000" stroke-width="0.16">-950</text>
<text x="222.64" y="75.84" font-family='"Liberation Serif", serif' font-size="7.8" font-weight="normal" font-style="normal" text-anchor="start" fill="#000" stroke="#000" stroke-width="0.16">50</text>
<text x="128.64000000000001" y="86.0" font-family='"Liberation Serif", serif' font-size="7.7" font-weight="normal" font-style="normal" text-anchor="start" fill="#000" stroke="#000" stroke-width="0.16">bp</text>
<text transform="translate(7.7,51) rotate(-90)" font-family='"Liberation Serif", serif' font-size="7.6" font-weight="normal" font-style="normal" text-anchor="start" fill="#000" stroke="#000" stroke-width="0.06">Fraction</text>
<text transform="translate(16,55.4) rotate(-90)" font-family='"Liberation Serif", serif' font-size="7.6" font-weight="normal" font-style="normal" text-anchor="start" fill="#000" stroke="#000" stroke-width="0.06">methylated</text>
<text x="195" y="15" font-family='"Liberation Serif", serif' font-size="6.5" font-weight="normal" font-style="normal" text-anchor="start" fill="#3a3a3a" stroke="#3a3a3a" stroke-width="0">Fibroblasts</text>
<text x="262.6" y="10.3" font-family='"Liberation Sans", sans-serif' font-size="14" font-weight="bold" font-style="normal" text-anchor="start" fill="#000" stroke="#000" stroke-width="0.25">B</text>
<text x="287.2" y="37.68" font-family='"Liberation Serif", serif' font-size="7.8" font-weight="normal" font-style="normal" text-anchor="start" fill="#000" stroke="#000" stroke-width="0.16">1.0</text>
<text x="296.08000000000004" y="66.48" font-family='"Liberation Serif", serif' font-size="7.8" font-weight="normal" font-style="normal" text-anchor="start" fill="#000" stroke="#000" stroke-width="0.16">0</text>
<text x="300.84" y="80.52" font-family='"Liberation Serif", serif' font-size="7.8" font-weight="normal" font-style="normal" text-anchor="start" fill="#000" stroke="#000" stroke-width="0.16">-1950</text>
<text x="397.04" y="80.92" font-family='"Liberation Serif", serif' font-size="7.8" font-weight="normal" font-style="normal" text-anchor="start" fill="#000" stroke="#000" stroke-width="0.16">-950</text>
<text x="494.14" y="80.58" font-family='"Liberation Serif", serif' font-size="7.8" font-weight="normal" font-style="normal" text-anchor="start" fill="#000" stroke="#000" stroke-width="0.16">50</text>
<text x="397.76" y="91.0" font-family='"Liberation Serif", serif' font-size="7.7" font-weight="normal" font-style="normal" text-anchor="start" fill="#000" stroke="#000" stroke-width="0.16">bp</text>
<text transform="translate(269,59.2) rotate(-90)" font-family='"Liberation Serif", serif' font-size="7.6" font-weight="normal" font-style="normal" text-anchor="start" fill="#000" stroke="#000" stroke-width="0.06">Fraction</text>
<text transform="translate(278.5,59.9) rotate(-90)" font-family='"Liberation Serif", serif' font-size="7.6" font-weight="normal" font-style="normal" text-anchor="start" fill="#000" stroke="#000" stroke-width="0.06">methylated</text>
<text x="471.5" y="19" font-family='"Liberation Serif", serif' font-size="6.5" font-weight="normal" font-style="normal" text-anchor="start" fill="#3a3a3a" stroke="#3a3a3a" stroke-width="0">T cells</text>
<text x="442.3" y="23.5" font-family='"Liberation Serif", serif' font-size="7.5" font-weight="normal" font-style="italic" text-anchor="start" fill="#000" stroke="#000" stroke-width="0.16">Alu</text>
<text x="0.9" y="116.5" font-family='"Liberation Sans", sans-serif' font-size="14" font-weight="bold" font-style="normal" text-anchor="start" fill="#000" stroke="#000" stroke-width="0.25">C</text>
<text x="25.0" y="143.04" font-family='"Liberation Serif", serif' font-size="7.8" font-weight="normal" font-style="normal" text-anchor="start" fill="#000" stroke="#000" stroke-width="0.16">1.0</text>
<text x="29.38" y="176.45999999999998" font-family='"Liberation Serif", serif' font-size="7.8" font-weight="normal" font-style="normal" text-anchor="start" fill="#000" stroke="#000" stroke-width="0.16">0</text>
<text x="33.76" y="190.20000000000002" font-family='"Liberation Serif", serif' font-size="7.8" font-weight="normal" font-style="normal" text-anchor="start" fill="#000" stroke="#000" stroke-width="0.16">-1950</text>
<text x="130.8" y="190.5" font-family='"Liberation Serif", serif' font-size="7.8" font-weight="normal" font-style="normal" text-anchor="start" fill="#000" stroke="#000" stroke-width="0.16">-950</text>
<text x="227.26" y="189.66" font-family='"Liberation Serif", serif' font-size="7.8" font-weight="normal" font-style="normal" text-anchor="start" fill="#000" stroke="#000" stroke-width="0.16">50</text>
<text x="130.74" y="200.16" font-family='"Liberation Serif", serif' font-size="7.7" font-weight="normal" font-style="normal" text-anchor="start" fill="#000" stroke="#000" stroke-width="0.16">bp</text>
<text transform="translate(7.2,159.7) rotate(-90)" font-family='"Liberation Serif", serif' font-size="7.6" font-weight="normal" font-style="normal" text-anchor="start" fill="#000" stroke="#000" stroke-width="0.06">Fraction</text>
<text transform="translate(16,160.5) rotate(-90)" font-family='"Liberation Serif", serif' font-size="7.6" font-weight="normal" font-style="normal" text-anchor="start" fill="#000" stroke="#000" stroke-width="0.06">methylated</text>
<text x="194" y="128" font-family='"Liberation Serif", serif' font-size="6.5" font-weight="normal" font-style="normal" text-anchor="start" fill="#3a3a3a" stroke="#3a3a3a" stroke-width="0">Unstimulated</text>
<text x="263.5" y="116.1" font-family='"Liberation Sans", sans-serif' font-size="14" font-weight="bold" font-style="normal" text-anchor="start" fill="#000" stroke="#000" stroke-width="0.25">D</text>
<text x="287.28" y="146.96" font-family='"Liberation Serif", serif' font-size="7.8" font-weight="normal" font-style="normal" text-anchor="start" fill="#000" stroke="#000" stroke-width="0.16">1.0</text>
<text x="291.68" y="184.0" font-family='"Liberation Serif", serif' font-size="7.8" font-weight="normal" font-style="normal" text-anchor="start" fill="#000" stroke="#000" stroke-width="0.16">0</text>
<text x="299.4" y="194.16" font-family='"Liberation Serif", serif' font-size="7.8" font-weight="normal" font-style="normal" text-anchor="start" fill="#000" stroke="#000" stroke-width="0.16">-1950</text>
<text x="388.64" y="195.20000000000002" font-family='"Liberation Serif", serif' font-size="7.8" font-weight="normal" font-style="normal" text-anchor="start" fill="#000" stroke="#000" stroke-width="0.16">-950</text>
<text x="489.32" y="194.74" font-family='"Liberation Serif", serif' font-size="7.8" font-weight="normal" font-style="normal" text-anchor="start" fill="#000" stroke="#000" stroke-width="0.16">50</text>
<text x="388.1" y="203.9" font-family='"Liberation Serif", serif' font-size="7.7" font-weight="normal" font-style="normal" text-anchor="start" fill="#000" stroke="#000" stroke-width="0.16">bp</text>
<text transform="translate(269,160.1) rotate(-90)" font-family='"Liberation Serif", serif' font-size="7.6" font-weight="normal" font-style="normal" text-anchor="start" fill="#000" stroke="#000" stroke-width="0.06">Fraction</text>
<text transform="translate(278.3,160.1) rotate(-90)" font-family='"Liberation Serif", serif' font-size="7.6" font-weight="normal" font-style="normal" text-anchor="start" fill="#000" stroke="#000" stroke-width="0.06">methylated</text>
<text x="457.5" y="133" font-family='"Liberation Serif", serif' font-size="6.5" font-weight="normal" font-style="normal" text-anchor="start" fill="#3a3a3a" stroke="#3a3a3a" stroke-width="0">Stimulated</text>
<text x="0.1" y="230" font-family='"Liberation Sans", sans-serif' font-size="14" font-weight="bold" font-style="normal" text-anchor="start" fill="#000" stroke="#000" stroke-width="0.25">E</text>
<text x="24.16" y="259.65999999999997" font-family='"Liberation Serif", serif' font-size="7.8" font-weight="normal" font-style="normal" text-anchor="start" fill="#000" stroke="#000" stroke-width="0.16">1.0</text>
<text x="29.26" y="300.88" font-family='"Liberation Serif", serif' font-size="7.8" font-weight="normal" font-style="normal" text-anchor="start" fill="#000" stroke="#000" stroke-width="0.16">0</text>
<text x="33.84" y="314.08" font-family='"Liberation Serif", serif' font-size="7.8" font-weight="normal" font-style="normal" text-anchor="start" fill="#000" stroke="#000" stroke-width="0.16">-1950</text>
<text x="129.9" y="313.46" font-family='"Liberation Serif", serif' font-size="7.8" font-weight="normal" font-style="normal" text-anchor="start" fill="#000" stroke="#000" stroke-width="0.16">-950</text>
<text x="231.52" y="313.68" font-family='"Liberation Serif", serif' font-size="7.8" font-weight="normal" font-style="normal" text-anchor="start" fill="#000" stroke="#000" stroke-width="0.16">50</text>
<text x="129.84" y="323.72" font-family='"Liberation Serif", serif' font-size="7.7" font-weight="normal" font-style="normal" text-anchor="start" fill="#000" stroke="#000" stroke-width="0.16">bp</text>
<text transform="translate(7.2,279.7) rotate(-90)" font-family='"Liberation Serif", serif' font-size="7.6" font-weight="normal" font-style="normal" text-anchor="start" fill="#000" stroke="#000" stroke-width="0.06">Fraction</text>
<text transform="translate(16.5,280.5) rotate(-90)" font-family='"Liberation Serif", serif' font-size="7.6" font-weight="normal" font-style="normal" text-anchor="start" fill="#000" stroke="#000" stroke-width="0.06">methylated</text>
<text x="208.4" y="248.6" font-family='"Liberation Serif", serif' font-size="6.5" font-weight="normal" font-style="normal" text-anchor="start" fill="#3a3a3a" stroke="#3a3a3a" stroke-width="0">CD8+</text>
<text x="262.5" y="229.5" font-family='"Liberation Sans", sans-serif' font-size="14" font-weight="bold" font-style="normal" text-anchor="start" fill="#000" stroke="#000" stroke-width="0.25">F</text>
<text x="287.7" y="257" font-family='"Liberation Serif", serif' font-size="7.8" font-weight="normal" font-style="normal" text-anchor="start" fill="#000" stroke="#000" stroke-width="0.16">1.0</text>
<text x="292.42" y="294.22" font-family='"Liberation Serif", serif' font-size="7.8" font-weight="normal" font-style="normal" text-anchor="start" fill="#000" stroke="#000" stroke-width="0.16">0</text>
<text x="297.2" y="306.0" font-family='"Liberation Serif", serif' font-size="7.8" font-weight="normal" font-style="normal" text-anchor="start" fill="#000" stroke="#000" stroke-width="0.16">-1950</text>
<text x="392.44" y="305.53999999999996" font-family='"Liberation Serif", serif' font-size="7.8" font-weight="normal" font-style="normal" text-anchor="start" fill="#000" stroke="#000" stroke-width="0.16">-950</text>
<text x="489.85999999999996" y="305.72" font-family='"Liberation Serif", serif' font-size="7.8" font-weight="normal" font-style="normal" text-anchor="start" fill="#000" stroke="#000" stroke-width="0.16">50</text>
<text x="393.18" y="314.98" font-family='"Liberation Serif", serif' font-size="7.7" font-weight="normal" font-style="normal" text-anchor="start" fill="#000" stroke="#000" stroke-width="0.16">bp</text>
<text transform="translate(271.3,277.2) rotate(-90)" font-family='"Liberation Serif", serif' font-size="7.6" font-weight="normal" font-style="normal" text-anchor="start" fill="#000" stroke="#000" stroke-width="0.06">Fraction</text>
<text transform="translate(280.4,277.2) rotate(-90)" font-family='"Liberation Serif", serif' font-size="7.6" font-weight="normal" font-style="normal" text-anchor="start" fill="#000" stroke="#000" stroke-width="0.06">methylated</text>
<text x="475.4" y="243.2" font-family='"Liberation Serif", serif' font-size="6.5" font-weight="normal" font-style="normal" text-anchor="start" fill="#3a3a3a" stroke="#3a3a3a" stroke-width="0">CD4+</text>
</g>
</svg>
</body></html>
